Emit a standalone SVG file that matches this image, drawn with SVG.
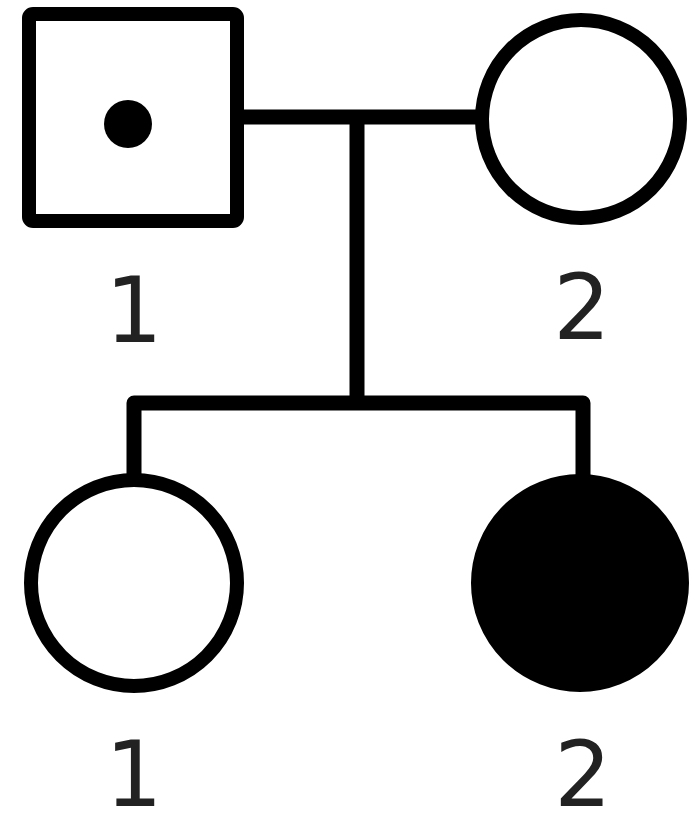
<svg xmlns="http://www.w3.org/2000/svg" width="693" height="828" viewBox="0 0 693 828">
<style>
.ln{fill:none;stroke:#000;stroke-width:15;stroke-linejoin:round}
.sym{fill:#fff;stroke:#000;stroke-width:14}
.aff{fill:#000;stroke:#000;stroke-width:14}
.lbl{font-family:"DejaVu Sans",sans-serif;font-size:90px;fill:#222;text-anchor:middle}
</style>
<rect width="693" height="828" fill="#fff"/>
<g id="connectors">
<line class="ln" x1="237" y1="117" x2="476" y2="117"/>
<line class="ln" x1="357" y1="117" x2="357" y2="403"/>
<polyline class="ln" points="134,476 134,403 583,403 583,476"/>
</g>
<g id="I-1">
<rect class="sym" x="29" y="14" width="208" height="207" rx="4"/>
<circle cx="128" cy="124" r="24" fill="#000"/>
<text class="lbl" x="134" y="342">1</text>
</g>
<g id="I-2">
<circle class="sym" cx="581" cy="119" r="99"/>
<text class="lbl" x="582" y="339">2</text>
</g>
<g id="II-1">
<circle class="sym" cx="134" cy="583" r="103"/>
<text class="lbl" x="134" y="806">1</text>
</g>
<g id="II-2">
<circle class="aff" cx="580" cy="583" r="102"/>
<text class="lbl" x="583" y="806">2</text>
</g>
</svg>
